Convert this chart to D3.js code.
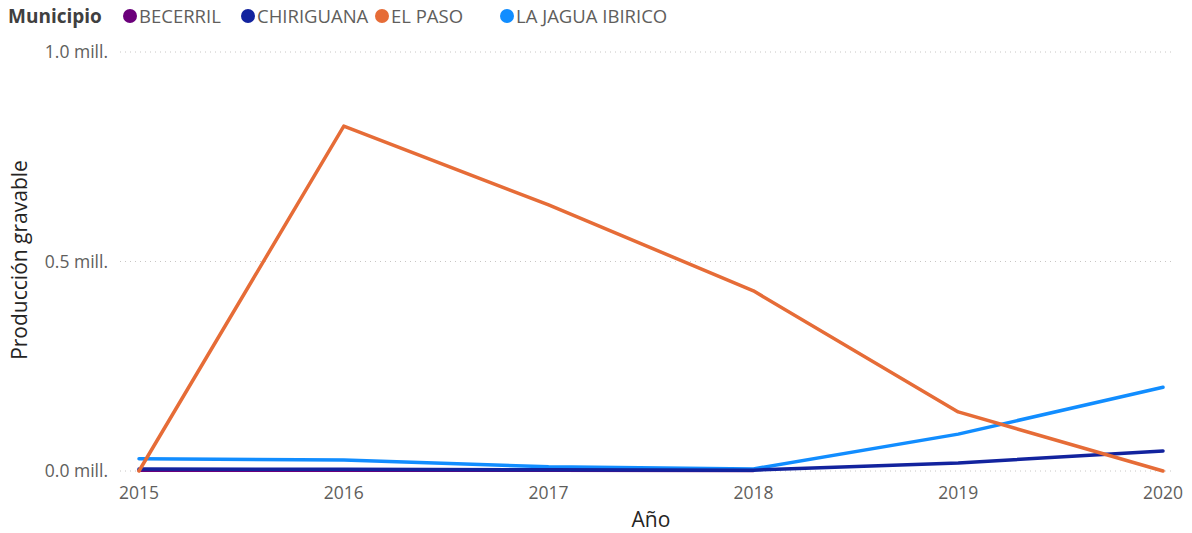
<!DOCTYPE html>
<html><head><meta charset="utf-8">
<script src="https://cdn.jsdelivr.net/npm/d3@7"></script>
<style>body{margin:0;background:#fff;}svg{display:block;font-family:"Open Sans","Noto Sans",sans-serif;}</style>
</head><body>
<svg id="c" width="1192" height="533"></svg>
<script>
const years = [2015, 2016, 2017, 2018, 2019, 2020];
const municipios = ["BECERRIL", "CHIRIGUANA", "EL PASO", "LA JAGUA IBIRICO"];
const becerril = [0.002, 0.002, 0.002, 0.001, null, null];
const chiriguana = [0.005, 0.004, 0.003, 0.002, 0.019, 0.048];
const elPaso = [0.0, 0.823, 0.635, 0.43, 0.141, 0.0];
const laJagua = [0.029, 0.026, 0.01, 0.005, 0.088, 0.2];
const colors = ["#6B007B", "#12239E", "#E66C37", "#118DFF"];
const yTicks = [0, 0.5, 1.0];
const yTickLabels = ["0.0 mill.", "0.5 mill.", "1.0 mill."];

const series = [becerril, chiriguana, elPaso, laJagua];
const svg = d3.select("#c");
const x = d3.scaleLinear().domain([2015, 2020]).range([139, 1163]);
const y = d3.scaleLinear().domain([0, 1]).range([471, 52]);

// gridlines
svg.append("g").selectAll("line").data(yTicks).join("line")
  .attr("x1", 120).attr("x2", 1172)
  .attr("y1", d => y(d)).attr("y2", d => y(d))
  .attr("stroke", "#C8C6C4").attr("stroke-width", 1).attr("stroke-dasharray", "1,4");

// y labels
svg.append("g").selectAll("text").data(yTicks).join("text")
  .attr("x", 108).attr("y", d => y(d)).attr("dy", "0.35em")
  .attr("text-anchor", "end").attr("fill", "#605E5C").attr("font-size", 17.5)
  .text((d, i) => yTickLabels[i]);

// x labels
svg.append("g").selectAll("text").data(years).join("text")
  .attr("x", d => x(d)).attr("y", 499)
  .attr("text-anchor", "middle").attr("fill", "#605E5C").attr("font-size", 17.5)
  .text(d => d);

// axis titles
svg.append("text").attr("x", 651).attr("y", 527).attr("text-anchor", "middle")
  .attr("fill", "#252423").attr("font-size", 21).text("Año");
svg.append("text").attr("transform", "translate(27,260) rotate(-90)")
  .attr("text-anchor", "middle").attr("fill", "#252423").attr("font-size", 21)
  .text("Producción gravable");

// lines
const line = d3.line().defined(d => d !== null).x((d, i) => x(years[i])).y(d => y(d));
const order = [0, 3, 1, 2];
svg.append("g").selectAll("path").data(order).join("path")
  .attr("d", k => line(series[k]))
  .attr("fill", "none").attr("stroke", k => colors[k]).attr("stroke-width", 3.5)
  .attr("stroke-linejoin", "round").attr("stroke-linecap", "round");

// legend
const lg = svg.append("g");
lg.append("text").attr("x", 8).attr("y", 23).attr("font-size", 19).attr("font-weight", "bold")
  .attr("fill", "#404040").text("Municipio");
const legX = [123, 241, 375, 500];
municipios.forEach((m, i) => {
  lg.append("circle").attr("cx", legX[i] + 7).attr("cy", 16).attr("r", 7).attr("fill", colors[i]);
  lg.append("text").attr("x", legX[i] + 16).attr("y", 23).attr("font-size", 18.5)
    .attr("fill", "#605E5C").text(m);
});
</script>
</body></html>
